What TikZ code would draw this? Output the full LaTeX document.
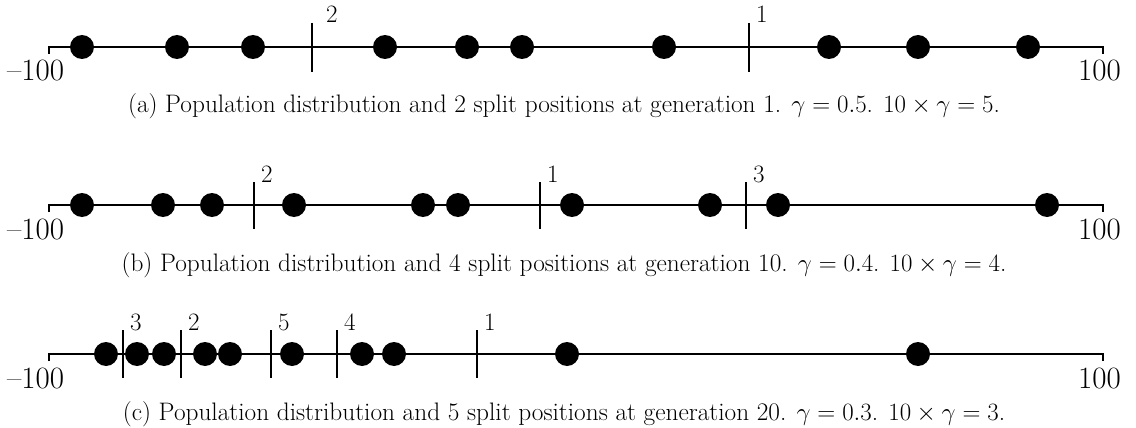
\documentclass[tikz,border=0pt]{standalone}
\begin{document}
\begin{tikzpicture}[x=1pt,y=-1pt,
  dot/.style={circle,fill=black,inner sep=0pt,minimum size=24pt},
  axis/.style={line width=2pt},
  split/.style={line width=2pt},
  lab/.style={inner sep=0pt,anchor=base west,font=\fontsize{25}{30}\selectfont},
  endlab/.style={inner sep=0pt,anchor=base west,font=\fontsize{31}{36}\selectfont},
  captxt/.style={inner sep=0pt,anchor=base,font=\fontsize{25.3}{30}\selectfont}]
\useasboundingbox (0,0) rectangle (1136,428);
% panel a
\coordinate (aL) at (49,47); \coordinate (aR) at (1103,47);
\draw[axis] ([yshift=-7pt]aL) -- (aL) -- (aR) -- ([yshift=-7pt]aR);
\foreach \x [count=\i] in {82,177,253,385,467,522,664,829,918,1028}
  \node[dot] (a\i) at (\x,47) {};
\foreach \x/\l/\o in {312/2/14,749/1/7}{
  \draw[split] (\x,23) -- (\x,72);
  \node[lab] at (\x+\o,23) {\l};}
\node[endlab] (am) at (7,81) {--100};
\node[captxt] (ac) at (564,113) {(a) Population distribution and 2 split positions at generation 1. $\gamma=0.5$. $10\times\gamma=5$.};
% panel b
\coordinate (bL) at (49,205); \coordinate (bR) at (1103,205);
\draw[axis] ([yshift=-7pt]bL) -- (bL) -- (bR) -- ([yshift=-7pt]bR);
\foreach \x [count=\i] in {82,163,212,294,423,458,572,710,778,1047}
  \node[dot] (b\i) at (\x,205) {};
\foreach \x/\l in {254/2,540/1,746/3}{
  \draw[split] (\x,182) -- (\x,229);
  \node[lab] at (\x+7,182) {\l};}
\node[endlab] (bm) at (7,239) {--100};
\node[captxt] (bc) at (564,271) {(b) Population distribution and 4 split positions at generation 10. $\gamma=0.4$. $10\times\gamma=4$.};
% panel c
\coordinate (cL) at (49,354); \coordinate (cR) at (1103,354);
\draw[axis] ([yshift=-7pt]cL) -- (cL) -- (cR) -- ([yshift=-7pt]cR);
\foreach \x [count=\i] in {106,137,164,205,230,292,362,394,567,918}
  \node[dot] (c\i) at (\x,354) {};
\foreach \x/\l in {123/3,181/2,271/5,337/4,477/1}{
  \draw[split] (\x,330) -- (\x,378);
  \node[lab] at (\x+7,330) {\l};}
\node[endlab] (cm) at (7,388) {--100};
\node[captxt] (cc) at (564,420) {(c) Population distribution and 5 split positions at generation 20. $\gamma=0.3$. $10\times\gamma=3$.};
% right end labels, cut off at the figure edge as in the original
\begin{scope}
\clip (0,0) rectangle (1122,428);
\node[endlab] (ap) at (1078,81) {100};
\node[endlab] (bp) at (1078,239) {100};
\node[endlab] (cp) at (1078,388) {100};
\end{scope}
\end{tikzpicture}
\end{document}
